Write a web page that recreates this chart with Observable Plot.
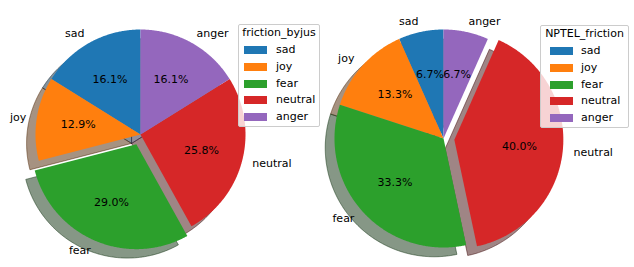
<!DOCTYPE html>
<html>
<head>
<meta charset="utf-8">
<script src="https://cdn.jsdelivr.net/npm/d3@7"></script>
<script src="https://cdn.jsdelivr.net/npm/@observablehq/plot@0.6"></script>
<style>
  html, body { margin: 0; padding: 0; background: #fff; }
  #wrap { position: relative; width: 634px; height: 267px; overflow: hidden; font-family: "DejaVu Sans", sans-serif; }
  .panel { position: absolute; top: 0; }
  .panel svg { overflow: visible; }
  .legend { position: absolute; box-sizing: border-box; border: 1px solid #cccccc; border-radius: 2px; background: rgba(255,255,255,0.8); font-size: 11px; color: #000; z-index: 5; }
  .legend .ttl { position: absolute; left: 0; right: 0; text-align: center; line-height: 12px; white-space: nowrap; }
  .legend .sw { position: absolute; width: 23px; height: 8px; }
  .legend .lb { position: absolute; line-height: 12px; white-space: nowrap; }
</style>
</head>
<body>
<div id="wrap"></div>
<script>
// ---- data ----
const categories = ["sad", "joy", "fear", "neutral", "anger"];
const byjusCounts = [5, 4, 9, 8, 5];
const nptelCounts = [1, 2, 5, 6, 1];
const colors = ["#1f77b4", "#ff7f0e", "#2ca02c", "#d62728", "#9467bd"];
const byjusExplode = [0, 0, 0.1, 0, 0];
const nptelExplode = [0, 0, 0, 0.1, 0];
const titles = ["friction_byjus", "NPTEL_friction"];

const fmt = d3.format(".1%");
const SH = 0.085; // shadow offset (data units)

function pieWedges(counts, explode) {
  const total = d3.sum(counts);
  let cum = 0;
  return counts.map((c, i) => {
    const frac = c / total;
    const t1 = 90 + 360 * cum, t2 = 90 + 360 * (cum + frac);
    cum += frac;
    const tm = (t1 + t2) / 2 * Math.PI / 180;
    const cx = explode[i] * Math.cos(tm), cy = explode[i] * Math.sin(tm);
    const n = Math.max(2, Math.ceil((t2 - t1) * 2));
    const pts = [{x: cx, y: cy}];
    for (let k = 0; k <= n; k++) {
      const a = (t1 + (t2 - t1) * k / n) * Math.PI / 180;
      pts.push({x: cx + Math.cos(a), y: cy + Math.sin(a)});
    }
    pts.push({x: cx, y: cy});
    const c3 = d3.rgb(colors[i]);
    const dark = d3.rgb(c3.r * 0.3, c3.g * 0.3, c3.b * 0.3).formatHex();
    return {
      label: categories[i], color: colors[i], dark, frac, pts,
      lx: cx + 1.1 * Math.cos(tm), ly: cy + 1.1 * Math.sin(tm),
      px: cx + 0.6 * Math.cos(tm), py: cy + 0.6 * Math.sin(tm)
    };
  });
}

function drawPie(counts, explode, xdom, ydom) {
  const w = pieWedges(counts, explode);
  const marks = [];
  // shadows first
  for (const d of w) {
    marks.push(Plot.line(d.pts.map(p => ({x: p.x - SH, y: p.y - SH})), {
      x: "x", y: "y", fill: d.dark, fillOpacity: 0.5,
      stroke: d.dark, strokeOpacity: 0.5, strokeWidth: 1
    }));
  }
  for (const d of w) {
    marks.push(Plot.line(d.pts, {x: "x", y: "y", fill: d.color, stroke: "none"}));
  }
  marks.push(Plot.text(w.filter(d => d.lx > 0), {x: "lx", y: "ly", text: "label", textAnchor: "start", fill: "#000", fontSize: 11}));
  marks.push(Plot.text(w.filter(d => d.lx <= 0), {x: "lx", y: "ly", text: "label", textAnchor: "end", fill: "#000", fontSize: 11}));
  marks.push(Plot.text(w, {x: "px", y: "py", text: d => fmt(d.frac), textAnchor: "middle", fill: "#000", fontSize: 11}));
  return Plot.plot({
    width: 317, height: 267,
    margin: 0,
    x: {domain: xdom, axis: null},
    y: {domain: ydom, axis: null},
    style: {fontFamily: "DejaVu Sans, sans-serif", fontSize: "11px", background: "transparent", overflow: "visible"},
    marks
  });
}

const wrap = document.getElementById("wrap");

// left pie: center (140,134), r = 105 px
const r1 = 105, c1x = 140, c1y = 134;
const p1 = drawPie(byjusCounts, byjusExplode, [-c1x / r1, (317 - c1x) / r1], [-(267 - c1y) / r1, c1y / r1]);
const d1 = document.createElement("div"); d1.className = "panel"; d1.style.left = "0px"; d1.appendChild(p1); wrap.appendChild(d1);

// right pie: center (443,138) -> local 126, r = 109 px
const r2 = 109, c2x = 126, c2y = 138;
const p2 = drawPie(nptelCounts, nptelExplode, [-c2x / r2, (317 - c2x) / r2], [-(267 - c2y) / r2, c2y / r2]);
const d2 = document.createElement("div"); d2.className = "panel"; d2.style.left = "317px"; d2.appendChild(p2); wrap.appendChild(d2);

// legends
const legendBoxes = [
  {left: 238, top: 24, width: 82, height: 103, sw: 5, lb: 37},
  {left: 540, top: 25, width: 89, height: 103, sw: 9, lb: 40}
];
const rowCenters = [26, 43, 59.5, 76, 93];
legendBoxes.forEach((b, li) => {
  const L = document.createElement("div");
  L.className = "legend";
  Object.assign(L.style, {left: b.left + "px", top: b.top + "px", width: b.width + "px", height: b.height + "px"});
  const t = document.createElement("div");
  t.className = "ttl"; t.textContent = titles[li]; t.style.top = (9 - 6 - 1) + "px";
  L.appendChild(t);
  categories.forEach((c, i) => {
    const s = document.createElement("div");
    s.className = "sw";
    Object.assign(s.style, {left: b.sw + "px", top: (rowCenters[i] - 4 - 1) + "px", background: colors[i]});
    L.appendChild(s);
    const tx = document.createElement("div");
    tx.className = "lb"; tx.textContent = c;
    Object.assign(tx.style, {left: b.lb + "px", top: (rowCenters[i] - 6 - 1) + "px"});
    L.appendChild(tx);
  });
  wrap.appendChild(L);
});
</script>
</body>
</html>
